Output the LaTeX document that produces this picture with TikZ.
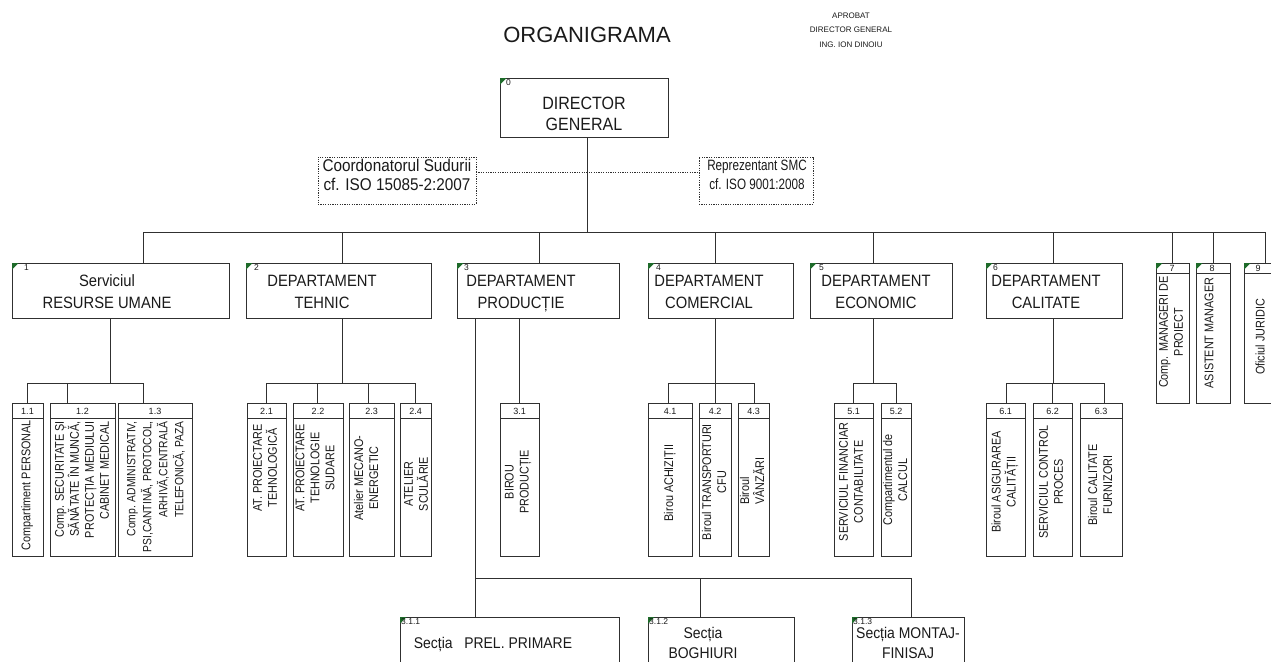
\documentclass[tikz,border=0pt]{standalone}
\usepackage{fontspec}
\setmainfont{Liberation Sans}
\newfontfamily\cf[FakeStretch=0.9]{Liberation Sans}
\newfontfamily\cv[FakeStretch=0.86]{Liberation Sans}
\newfontfamily\cn[FakeStretch=0.78]{Liberation Sans}
\definecolor{lc}{HTML}{303030}
\definecolor{tc}{HTML}{1A1A1A}
\definecolor{tg}{HTML}{1E6B2A}
\newcommand\gtri[1]{\fill[tri] (#1.north west) -- ++(6.5,0) -- ++(-6.5,6.5) -- cycle;}
\begin{document}
\begin{tikzpicture}[x=1pt,y=-1pt,
 wire/.style={draw=lc, line width=0.9pt},
 box/.style={draw=lc, line width=0.9pt, inner sep=0pt, outer sep=0pt, anchor=north west},
 dbox/.style={draw=lc, line width=0.8pt, dash pattern=on 1.2pt off 1.2pt, inner sep=0pt, outer sep=0pt, anchor=north west},
 dline/.style={draw=lc, line width=0.8pt, dash pattern=on 1.2pt off 1.2pt},
 dtxt/.style={font=\cf\fontsize{16.4}{22}\selectfont, align=center, text=tc, inner sep=0pt, text depth=0pt},
 btxt/.style={font=\cf\fontsize{15.5}{20}\selectfont, align=center, text=tc, inner sep=0pt, text depth=0pt},
 vt/.style={font=\cv\fontsize{12.6}{15}\selectfont, rotate=90, inner sep=0pt, text=tc, align=center},
 hnum/.style={font=\fontsize{9}{10}\selectfont, inner sep=0pt, text=tc},
 num/.style={font=\fontsize{8.5}{9}\selectfont, inner sep=0pt, anchor=north west, text=tc},
 tri/.style={fill=tg}]
\useasboundingbox (0,0) rectangle (1271,661);
\fill[white] (0,0) rectangle (1271,661);

% title
\node[font=\fontsize{22}{26}\selectfont, text=tc, inner sep=0pt] (title) at (587,35) {ORGANIGRAMA};
\node[font=\fontsize{8}{14.5}\selectfont, align=center, text=tc, inner sep=0pt] (aprob) at (851,30) {APROBAT\\DIRECTOR GENERAL\\ING. ION DINOIU};

% director
\node[box, minimum width=168pt, minimum height=59pt] (d0) at (500,78) {};
\gtri{d0}
\node[num] (n0) at ([xshift=6pt,yshift=-1pt]d0.north west) {0};
\node[font=\cf\fontsize{17.8}{21}\selectfont, align=center, text=tc, inner sep=0pt, text depth=0pt] (t0) at (584,114) {DIRECTOR\\GENERAL};

% dotted staff boxes
\node[dbox, minimum width=158pt, minimum height=47pt] (cs) at (318,157) {};
\node[dtxt, font=\cf\fontsize{17}{19}\selectfont] (tcs) at (397,174.5) {Coordonatorul Sudurii\\cf. ISO 15085-2:2007};
\node[dbox, minimum width=114pt, minimum height=47pt] (rs) at (699,157) {};
\node[dtxt, font=\cn\fontsize{15}{19}\selectfont] (trs) at (757,174.5) {Reprezentant SMC\\cf. ISO 9001:2008};
\draw[dline] (cs.east |- 0,172) -- (rs.west |- 0,172);

% bus level 1
\coordinate (b0) at (587,232);
\coordinate (b1) at (143,232);
\coordinate (b2) at (342,232);
\coordinate (b3) at (539,232);
\coordinate (b4) at (715,232);
\coordinate (b5) at (873,232);
\coordinate (b6) at (1053,232);
\coordinate (b7) at (1172,232);
\coordinate (b8) at (1213,232);
\coordinate (b9) at (1265,232);
\draw[wire] (d0.south -| b0) -- (b0);
\draw[wire] (b1) -- (b9);

% level 1 boxes
\node[box, minimum width=217pt, minimum height=55pt] (d1) at (12,263) {};
\node[box, minimum width=185pt, minimum height=55pt] (d2) at (246,263) {};
\node[box, minimum width=162pt, minimum height=55pt] (d3) at (457,263) {};
\node[box, minimum width=145pt, minimum height=55pt] (d4) at (648,263) {};
\node[box, minimum width=142pt, minimum height=55pt] (d5) at (810,263) {};
\node[box, minimum width=136pt, minimum height=55pt] (d6) at (986,263) {};
\node[box, minimum width=33pt, minimum height=140pt] (d7) at (1156,263) {};
\node[box, minimum width=34pt, minimum height=140pt] (d8) at (1196,263) {};
\node[box, minimum width=34pt, minimum height=140pt] (d9) at (1244,263) {};
\foreach \d in {d1,d2,d3,d4,d5,d6,d7,d8,d9}{\gtri{\d}}
\foreach \d in {d7,d8,d9}{\draw[wire] ([yshift=-10pt]\d.north west) -- ([yshift=-10pt]\d.north east);}
\node[num] (n1) at ([xshift=12pt,yshift=-1pt]d1.north west) {1};
\node[num] (n2) at ([xshift=8pt,yshift=-1pt]d2.north west) {2};
\node[num] (n3) at ([xshift=7pt,yshift=-1pt]d3.north west) {3};
\node[num] (n4) at ([xshift=8pt,yshift=-1pt]d4.north west) {4};
\node[num] (n5) at ([xshift=9pt,yshift=-1pt]d5.north west) {5};
\node[num] (n6) at ([xshift=7pt,yshift=-1pt]d6.north west) {6};
\node[hnum] (n7) at (1172,268) {7};
\node[hnum] (n8) at (1212,268) {8};
\node[hnum] (n9) at (1258,268) {9};
\foreach \i/\d in {1/d1,2/d2,3/d3,4/d4,5/d5,6/d6,7/d7,8/d8,9/d9}{\draw[wire] (b\i) -- (b\i |- \d.north);}

\node[dtxt] (t1) at (107,292) {Serviciul\\RESURSE UMANE};
\node[dtxt] (t2) at (322,292) {DEPARTAMENT\\TEHNIC};
\node[dtxt] (t3) at (521,292) {DEPARTAMENT\\PRODUCȚIE};
\node[dtxt] (t4) at (709,292) {DEPARTAMENT\\COMERCIAL};
\node[dtxt] (t5) at (876,292) {DEPARTAMENT\\ECONOMIC};
\node[dtxt] (t6) at (1046,292) {DEPARTAMENT\\CALITATE};
\node[vt] (t7) at (1171,332) {Comp. MANAGERI DE\\PROIECT};
\node[vt] (t8) at (1209,333) {ASISTENT MANAGER};
\node[vt] (t9) at (1260,337) {Oficiul JURIDIC};

% sub boxes
\foreach \n/\x/\w/\lab in {s11/12/31/1.1, s12/50/65/1.2, s13/118/74/1.3,
  s21/247/39/2.1, s22/293/50/2.2, s23/349/45/2.3, s24/400/31/2.4,
  s31/500/39/3.1, s41/648/44/4.1, s42/699/32/4.2, s43/738/31/4.3,
  s51/834/39/5.1, s52/881/30/5.2, s61/986/39/6.1, s62/1033/39/6.2, s63/1080/42/6.3}{
  \node[box, minimum width=\w pt, minimum height=153pt] (\n) at (\x,403) {};
  \draw[wire] ([yshift=-15pt]\n.north west) -- ([yshift=-15pt]\n.north east);
  \node[hnum] (h\n) at ([yshift=-8pt]\n.north) {\lab};
}

% sub buses
\coordinate (v1) at (110,383);
\coordinate (v2) at (342,383);
\coordinate (v4) at (715,383);
\coordinate (v5) at (873,383);
\coordinate (v6) at (1053,383);
\draw[wire] (d1.south -| v1) -- (v1);
\draw[wire] (d2.south -| v2) -- (v2);
\draw[wire] (d4.south -| v4) -- (v4);
\draw[wire] (d5.south -| v5) -- (v5);
\draw[wire] (d6.south -| v6) -- (v6);
\foreach \n/\x in {s11/27, s12/67, s13/143, s21/266, s22/317, s23/368, s24/415,
  s41/668, s42/715, s43/754, s51/853, s52/896, s61/1006, s62/1052, s63/1104}{
  \coordinate (c\n) at (\x,383);
  \draw[wire] (c\n) -- (c\n |- \n.north);
}
\draw[wire] (cs11) -- (cs13);
\draw[wire] (cs21) -- (cs24);
\draw[wire] (cs41) -- (cs43);
\draw[wire] (cs51) -- (cs52);
\draw[wire] (cs61) -- (cs63);
\coordinate (c31) at (519,318);
\draw[wire] (c31) -- (c31 |- s31.north);

% sub box texts
\node[vt] (u11) at (27,485) {Compartiment PERSONAL};
\node[vt, align=right, anchor=east] (u12) at (82,421) {Comp. SECURITATE ȘI\\SĂNĂTATE ÎN MUNCĂ,\\PROTECȚIA MEDIULUI\\CABINET MEDICAL};
\node[vt, align=right, anchor=east, font=\cv\fontsize{12}{16}\selectfont] (u13) at (156,421) {Comp. ADMINISTRATIV,\\PSI,CANTINĂ, PROTOCOL,\\ARHIVĂ,CENTRALĂ\\TELEFONICĂ, PAZA};
\node[vt] (u21) at (265,468) {AT. PROIECTARE\\TEHNOLOGICĂ};
\node[vt] (u22) at (315,468) {AT. PROIECTARE\\TEHNOLOGIE\\SUDARE};
\node[vt] (u23) at (366,478) {Atelier MECANO-\\ENERGETIC};
\node[vt] (u24) at (416,484) {ATELIER\\SCULĂRIE};
\node[vt] (u31) at (518,482) {BIROU\\PRODUCȚIE};
\node[vt] (u41) at (670,483) {Birou ACHIZIȚII};
\node[vt] (u42) at (714,482) {Biroul TRANSPORTURI\\CFU};
\node[vt, align=left, anchor=west] (u43) at (752,505) {Biroul\\VÂNZĂRI};
\node[vt] (u51) at (851,482) {SERVICIUL FINANCIAR\\CONTABILITATE};
\node[vt] (u52) at (895,480) {Compartimentul de\\CALCUL};
\node[vt] (u61) at (1005,482) {Biroul ASIGURAREA\\CALITĂȚII};
\node[vt] (u62) at (1051,482) {SERVICIUL CONTROL\\PROCES};
\node[vt] (u63) at (1100,485) {Biroul CALITATE\\FURNIZORI};

% production sections
\node[box, minimum width=219pt, minimum height=70pt] (e1) at (400,617) {};
\node[box, minimum width=146pt, minimum height=70pt] (e2) at (648,617) {};
\node[box, minimum width=112pt, minimum height=70pt] (e3) at (852,617) {};
\foreach \d in {e1,e2,e3}{\gtri{\d}}
\node[num] (ne1) at ([xshift=1pt,yshift=-1pt]e1.north west) {3.1.1};
\node[num] (ne2) at ([xshift=1pt,yshift=-1pt]e2.north west) {3.1.2};
\node[num] (ne3) at ([xshift=1pt,yshift=-1pt]e3.north west) {3.1.3};
\node[btxt] (te1) at (493,643) {Secția \ \ PREL. PRIMARE};
\node[btxt] (te2) at (703,643) {Secția\\BOGHIURI};
\node[btxt] (te3) at (908,643) {Secția MONTAJ-\\FINISAJ};
\coordinate (p1) at (475,578);
\coordinate (p2) at (700,578);
\coordinate (p3) at (911,578);
\draw[wire] (d3.south -| p1) -- (p1 |- e1.north);
\draw[wire] (p1) -- (p3);
\draw[wire] (p2) -- (p2 |- e2.north);
\draw[wire] (p3) -- (p3 |- e3.north);
\end{tikzpicture}
\end{document}
